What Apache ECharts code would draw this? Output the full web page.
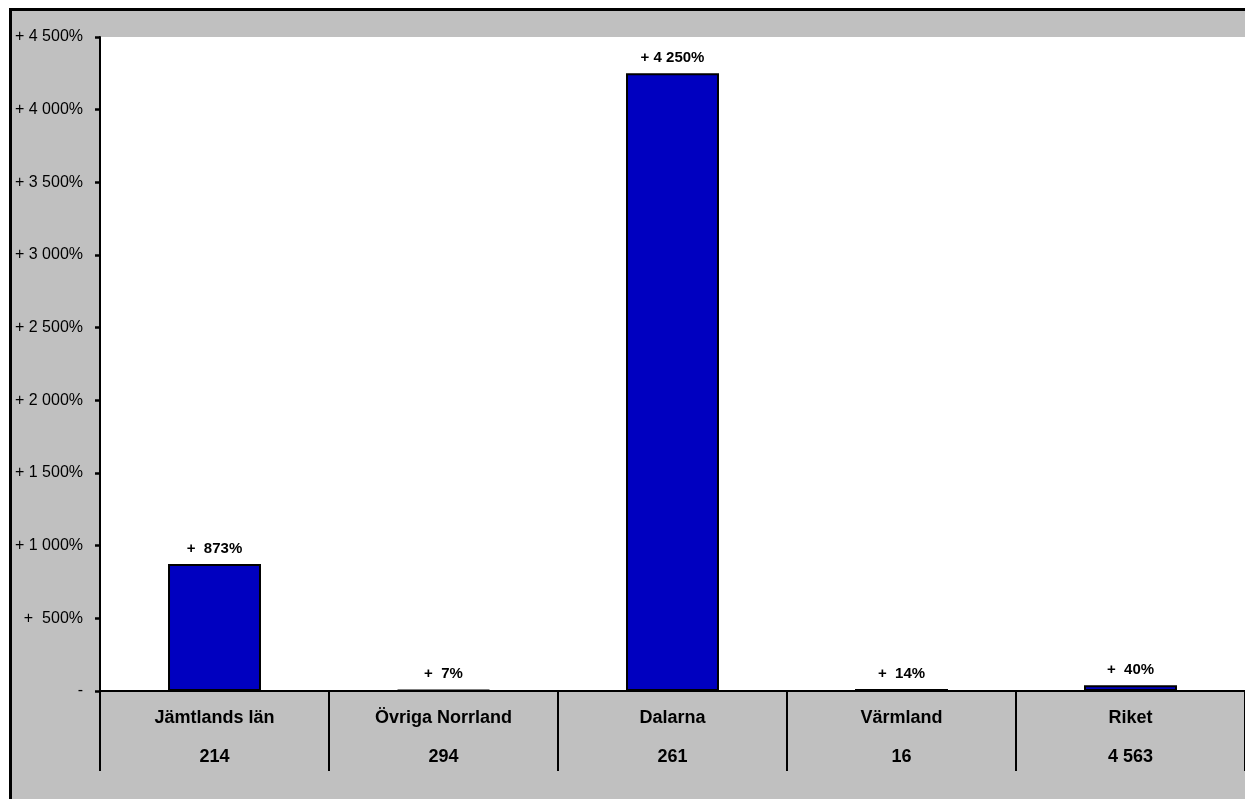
<!DOCTYPE html>
<html>
<head>
<meta charset="utf-8">
<script src="https://cdn.jsdelivr.net/npm/echarts@6/dist/echarts.min.js"></script>
<style>
html,body{margin:0;padding:0;background:#fff;}
#chart{width:1245px;height:799px;}
</style>
</head>
<body>
<div id="chart"></div>
<script>
const categories = ['Jämtlands län', 'Övriga Norrland', 'Dalarna', 'Värmland', 'Riket'];
const counts = ['214', '294', '261', '16', '4 563'];
const values = [873, 7, 4250, 14, 40];
const yMin = 0, yMax = 4500, yStep = 500;

const FONT = '"Liberation Sans", Arial, sans-serif';
function fmtNum(v) {
  return String(Math.round(v)).replace(/\B(?=(\d{3})+(?!\d))/g, ' ');
}
function fmtPct(v) {
  if (v === 0) return '-';
  return (v < 1000 ? '+  ' : '+ ') + fmtNum(v) + '%';
}

const chart = echarts.init(document.getElementById('chart'), null, {renderer: 'canvas'});
chart.setOption({
  backgroundColor: '#ffffff',
  animation: false,
  graphic: [{
    type: 'rect', z: -100,
    shape: {x: 10.5, y: 9.5, width: 1400, height: 900},
    style: {fill: '#c0c0c0', stroke: '#000', lineWidth: 3}
  }],
  grid: {left: 100, top: 37, right: 0, bottom: 108, show: true, backgroundColor: '#ffffff', borderWidth: 0},
  xAxis: {
    type: 'category',
    data: categories.map((c, i) => c + '\n' + counts[i]),
    boundaryGap: true,
    axisLine: {lineStyle: {color: '#000', width: 2}},
    axisTick: {show: true, length: 80, alignWithLabel: false, lineStyle: {color: '#000', width: 2}},
    axisLabel: {
      color: '#000', fontFamily: FONT, fontWeight: 'bold', fontSize: 18,
      lineHeight: 39, margin: 8, verticalAlign: 'top', interval: 0
    }
  },
  yAxis: {
    type: 'value', min: yMin, max: yMax, interval: yStep,
    splitLine: {show: false},
    axisLine: {show: true, lineStyle: {color: '#000', width: 2}},
    axisTick: {show: true, inside: false, length: 5, lineStyle: {color: '#000', width: 2.5}},
    axisLabel: {color: '#000', fontFamily: FONT, fontSize: 16, margin: 17, formatter: fmtPct}
  },
  series: [{
    type: 'bar',
    data: values,
    barWidth: '40.6%',
    itemStyle: {color: '#0000C0', borderColor: '#000', borderWidth: 2},
    label: {
      show: true, position: 'top', distance: 8,
      color: '#000', fontFamily: FONT, fontWeight: 'bold', fontSize: 15,
      formatter: p => fmtPct(p.value)
    }
  }]
});
</script>
</body>
</html>
